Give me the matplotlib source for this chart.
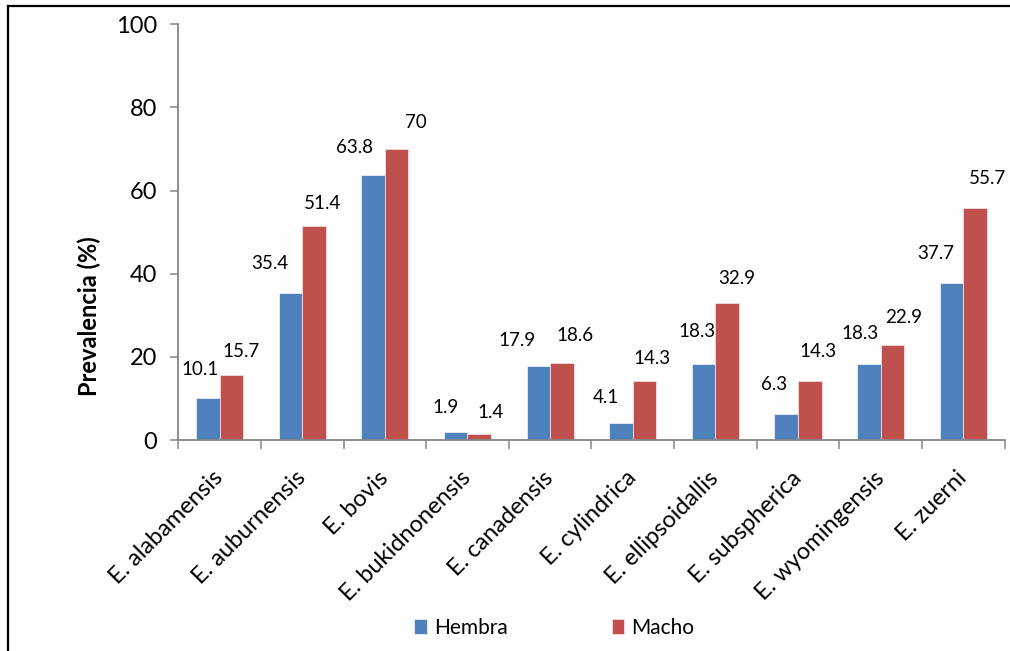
import matplotlib
matplotlib.use("Agg")
import matplotlib.pyplot as plt
import numpy as np
from matplotlib.lines import Line2D

plt.rcParams['font.family'] = ['Lato', 'DejaVu Sans']

#-----------------------------------
# Data
#-----------------------------------
especies = ["E. alabamensis", "E. auburnensis", "E. bovis", "E. bukidnonensis",
            "E. canadensis", "E. cylindrica", "E. ellipsoidallis",
            "E. subspherica", "E. wyomingensis", "E. zuerni"]
hembra = [10.1, 35.4, 63.8, 1.9, 17.9, 4.1, 18.3, 6.3, 18.3, 37.7]
macho = [15.7, 51.4, 70, 1.4, 18.6, 14.3, 32.9, 14.3, 22.9, 55.7]

# label nudges (pixels) relative to each bar top
hembra_dx = [-8, -21, -19, -10, -21, -15, -7, -12, -9, -16]
hembra_dy = [29, 29, 27, 25, 25, 25, 32, 29, 30, 30]
macho_dx = [10, 8, 19, 11, 13, 7, 9, 8, 11, 12]
macho_dy = [23, 23, 27, 22, 27, 22, 25, 29, 27, 30]

azul = "#4F81BD"
rojo = "#C0504D"
gris = "#868686"

fig = plt.figure(figsize=(10.10, 6.51), dpi=100)
ax = fig.add_axes([0.1765, 0.3241, 0.8182, 0.6386])

x = np.arange(len(especies))
w = 1 / 3.5
b1 = ax.bar(x - w / 2, hembra, w, color=azul, edgecolor="#e8eef6", linewidth=0.6, label="Hembra")
b2 = ax.bar(x + w / 2, macho, w, color=rojo, edgecolor="#f2dcdb", linewidth=0.6, label="Macho")

for i in range(len(x)):
    ax.annotate(f"{hembra[i]:g}", xy=(x[i] - w / 2, hembra[i]),
                xytext=(hembra_dx[i], hembra_dy[i]), textcoords="offset pixels",
                ha="center", va="center", fontsize=13.5)
    ax.annotate(f"{macho[i]:g}", xy=(x[i] + w / 2, macho[i]),
                xytext=(macho_dx[i], macho_dy[i]), textcoords="offset pixels",
                ha="center", va="center", fontsize=13.5)

ax.set_xlim(-0.5, len(especies) - 0.5)
ax.set_ylim(0, 100)
ax.set_yticks(np.arange(0, 101, 20))
ax.set_xticks(x)
ax.set_xticklabels(especies, rotation=45, ha="right", va="center",
                   rotation_mode="anchor", fontsize=17)
ax.set_xticks(np.arange(-0.5, len(especies)), minor=True)

ax.tick_params(axis="x", which="major", length=0, pad=25)
ax.tick_params(axis="x", which="minor", length=6.5, width=1.1, color=gris, direction="out")
ax.tick_params(axis="y", length=6, width=1.1, color=gris, direction="out",
               labelsize=17, pad=9)

for s in ["top", "right"]:
    ax.spines[s].set_visible(False)
for s in ["left", "bottom"]:
    ax.spines[s].set_color(gris)
    ax.spines[s].set_linewidth(1.3)

fig.text(0.088, 1 - 316 / 651, "Prevalencia (%)", rotation=90, ha="center", va="center",
         fontsize=17, fontweight="bold")

fig.legend(handles=[b1, b2], labels=["Hembra", "Macho"], loc="center left",
           bbox_to_anchor=(0.41, 1 - 628 / 651), ncol=2, frameon=False, fontsize=15,
           handlelength=0.6, handleheight=0.75, handletextpad=0.35,
           columnspacing=5.0, borderaxespad=0, borderpad=0)

# outer frame (left and top edges)
fig.add_artist(Line2D([8 / 1010, 8 / 1010], [0, 1 - 6 / 651], transform=fig.transFigure,
                      color="black", linewidth=1.6))
fig.add_artist(Line2D([8 / 1010, 1], [1 - 6 / 651, 1 - 6 / 651], transform=fig.transFigure,
                      color="black", linewidth=1.6))

fig.savefig("out.png", dpi=100)
